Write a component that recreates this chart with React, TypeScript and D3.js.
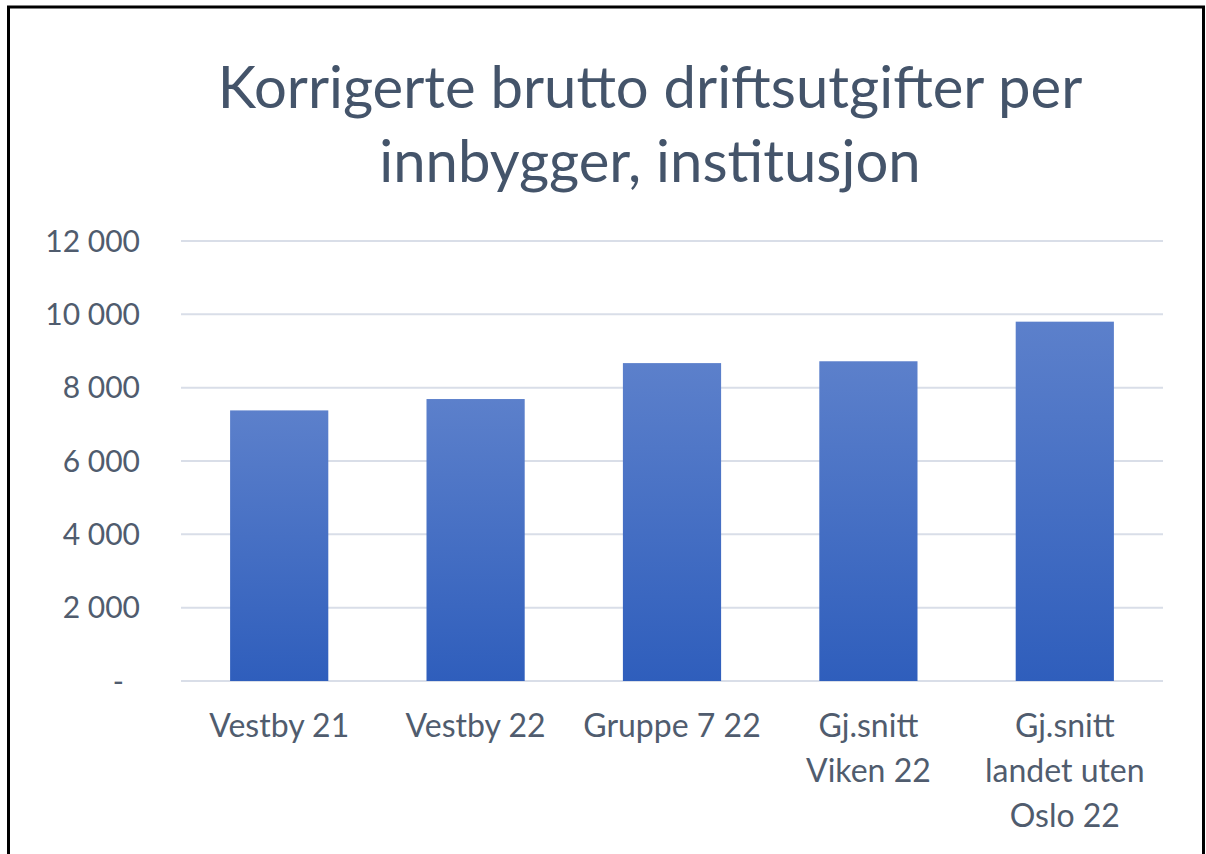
import React from 'react';
import * as d3 from 'd3';

const categories = ['Vestby 21', 'Vestby 22', 'Gruppe 7 22', 'Gj.snitt Viken 22', 'Gj.snitt landet uten Oslo 22'];
const categoryLines = [['Vestby 21'], ['Vestby 22'], ['Gruppe 7 22'], ['Gj.snitt', 'Viken 22'], ['Gj.snitt', 'landet uten', 'Oslo 22']];
const values = [7380, 7690, 8670, 8720, 9800];
const yTicks = [0, 2000, 4000, 6000, 8000, 10000, 12000];
const titleLines = ['Korrigerte brutto driftsutgifter per', 'innbygger, institusjon'];

const width = 1206;
const height = 854;
const margin = { top: 241, right: 43, bottom: 173, left: 181 };
const font = 'Lato, "Open Sans", sans-serif';

const fmt = (v: number) => (v === 0 ? '-' : d3.format(',')(v).replace(/,/g, '\u00a0'));

const App = () => {
  const x = d3.scaleBand()
    .domain(categories)
    .range([margin.left, width - margin.right])
    .paddingInner(0.5)
    .paddingOuter(0.25);

  const y = d3.scaleLinear()
    .domain([0, 12000])
    .range([height - margin.bottom, margin.top]);

  return (
    <svg width={width} height={height} style={{ position: 'absolute', left: 0, top: 0, background: '#fff' }}>
      <defs>
        <linearGradient id="barFill" x1="0" y1="0" x2="0" y2="1">
          <stop offset="0%" stopColor="#5c80cb" />
          <stop offset="100%" stopColor="#2f5ebc" />
        </linearGradient>
      </defs>
      <rect x={8.5} y={7} width={1195} height={900} fill="none" stroke="#000" strokeWidth={3} />

      {titleLines.map((t, i) => (
        <text key={t} x={650} y={108 + i * 74} textAnchor="middle" fontFamily={font}
          fontSize={58} fill="#44546a">{t}</text>
      ))}

      {yTicks.map((t) => (
        <g key={t}>
          <line x1={margin.left} x2={width - margin.right} y1={y(t)} y2={y(t)}
            stroke="#d9dee8" strokeWidth={2} />
          <text x={t === 0 ? 124 : 140} y={y(t)} dy="0.35em" textAnchor="end"
            fontFamily={font} fontSize={30} fill="#505c6e">{fmt(t)}</text>
        </g>
      ))}

      {categories.map((c, i) => (
        <rect key={c} x={x(c)} y={y(values[i])} width={x.bandwidth()}
          height={y(0) - y(values[i])} fill="url(#barFill)" />
      ))}

      {categories.map((c, i) => (
        <text key={c} textAnchor="middle" fontFamily={font} fontSize={32} fill="#505c6e">
          {categoryLines[i].map((l, j) => (
            <tspan key={l} x={(x(c) || 0) + x.bandwidth() / 2} y={737 + j * 45}>{l}</tspan>
          ))}
        </text>
      ))}
    </svg>
  );
};

export default App;
